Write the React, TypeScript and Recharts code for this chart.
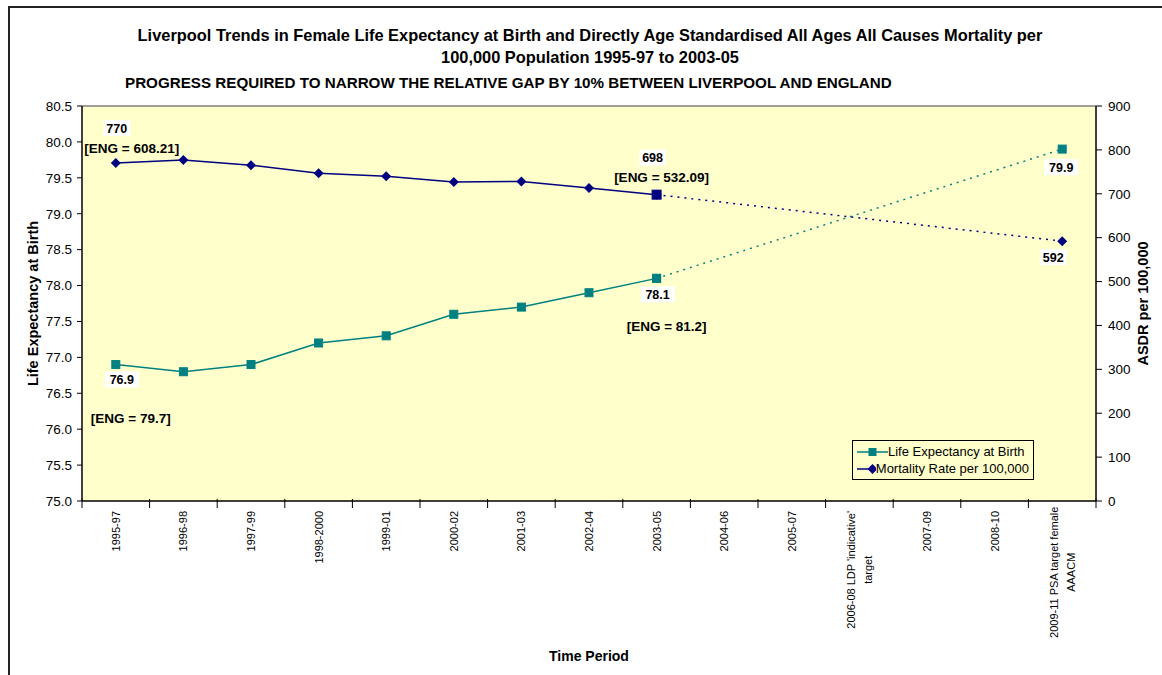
import { CartesianGrid, LabelList, Legend, Line, LineChart, ReferenceLine, XAxis, YAxis } from 'recharts';

const periods = [
  '1995-97',
  '1996-98',
  '1997-99',
  '1998-2000',
  '1999-01',
  '2000-02',
  '2001-03',
  '2002-04',
  '2003-05',
  '2004-06',
  '2005-07',
  "2006-08 LDP 'indicative' target",
  '2007-09',
  '2008-10',
  '2009-11 PSA target female AAACM',
];

// observed Liverpool figures
const lifeExpectancy = [76.9, 76.8, 76.9, 77.2, 77.3, 77.6, 77.7, 77.9, 78.1, null, null, null, null, null, null];
const mortalityRate = [770, 777, 765, 747, 740, 727, 728, 713, 698, null, null, null, null, null, null];

// projection from the latest period to the 2009-11 target
const lifeExpectancyTarget = [null, null, null, null, null, null, null, null, 78.1, null, null, null, null, null, 79.9];
const mortalityTarget = [null, null, null, null, null, null, null, null, 698, null, null, null, null, null, 592];

// England comparators shown next to the first and latest periods
const engLifeExpectancy = [79.7, null, null, null, null, null, null, null, 81.2, null, null, null, null, null, null];
const engMortality = [608.21, null, null, null, null, null, null, null, 532.09, null, null, null, null, null, null];

const leTicks = [75.0, 75.5, 76.0, 76.5, 77.0, 77.5, 78.0, 78.5, 79.0, 79.5, 80.0, 80.5];
const asdrTicks = [0, 100, 200, 300, 400, 500, 600, 700, 800, 900];

const data = periods.map((period, i) => ({
  period,
  le: lifeExpectancy[i],
  leTarget: lifeExpectancyTarget[i],
  mort: mortalityRate[i],
  mortTarget: mortalityTarget[i],
  engLe: engLifeExpectancy[i],
  engMort: engMortality[i],
}));

const TEAL = '#008080';
const NAVY = '#000080';
const PLOT_BG = '#FFFFCC';
const FONT = '"Liberation Sans", Arial, sans-serif';

const W = 1162;
const H = 675;
const M_TOP = 106;
const LEFT_AXIS_W = 82;
const RIGHT_AXIS_W = 66;
const X_AXIS_H = 174;
const HALF_BAND = (W - LEFT_AXIS_W - RIGHT_AXIS_W) / periods.length / 2;

const square = (color: string, size = 8) => (props: any) => {
  const { cx, cy, index } = props;
  if (cy == null || cx == null) return <g key={`s-${index}`} />;
  return <rect key={`s-${index}`} x={cx - size / 2} y={cy - size / 2} width={size} height={size} fill={color} stroke={color} />;
};

const diamond = (color: string, size = 5) => (props: any) => {
  const { cx, cy, index } = props;
  if (cy == null || cx == null) return <g key={`d-${index}`} />;
  return (
    <path
      key={`d-${index}`}
      d={`M${cx},${cy - size}L${cx + size},${cy}L${cx},${cy + size}L${cx - size},${cy}Z`}
      fill={color}
    />
  );
};

// target line for mortality starts on a square and ends on a diamond
const mortTargetDot = (props: any) => (props.index === periods.length - 1 ? diamond(NAVY)(props) : square(NAVY, 9)(props));

// offsets (from the point) for the value box and the England note
type LabelPos = { vx: number; vy: number; ex?: number; ey?: number };

const valueLabel = (positions: Record<number, LabelPos>, engValues: (number | null)[] | null, fmt: (v: number) => string) =>
  (props: any) => {
    const { value, index } = props;
    const pos = positions[index];
    if (!pos || value == null) return null;
    const vb = props.viewBox ?? {};
    const px = vb.x ?? props.x;
    const py = vb.y ?? props.y;
    const txt = fmt(Number(value));
    const w = txt.length * 7.5 + 4;
    const eng = engValues ? engValues[index] : null;
    return (
      <g key={`lbl-${index}`}>
        <rect x={px + pos.vx - w / 2} y={py + pos.vy - 8} width={w} height={16} fill="#ffffff" />
        <text x={px + pos.vx} y={py + pos.vy + 4.5} textAnchor="middle" fontSize={12.5} fontWeight="bold" fontFamily={FONT} fill="#000">
          {txt}
        </text>
        {eng != null && pos.ex != null && pos.ey != null && (
          <text x={px + pos.ex} y={py + pos.ey + 4.5} textAnchor="middle" fontSize={13.5} fontWeight="bold" fontFamily={FONT} fill="#000">
            {`[ENG = ${eng}]`}
          </text>
        )}
      </g>
    );
  };

const leLabelPos: Record<number, LabelPos> = {
  0: { vx: 6, vy: 15, ex: 15, ey: 54 },
  8: { vx: 1, vy: 16, ex: 10, ey: 48 },
};
const leTargetLabelPos: Record<number, LabelPos> = { 14: { vx: -1, vy: 18 } };
const mortLabelPos: Record<number, LabelPos> = {
  0: { vx: 1, vy: -35, ex: 16, ey: -15 },
  8: { vx: -4, vy: -37, ex: 5, ey: -17 },
};
const mortTargetLabelPos: Record<number, LabelPos> = { 14: { vx: -9, vy: 16 } };

// wrap the long target names onto two lines
const splitLabel = (label: string) => {
  if (label.length <= 20) return [label];
  const cut = label.lastIndexOf(' ');
  return [label.slice(0, cut), label.slice(cut + 1)];
};

const PeriodTick = (props: any) => {
  const { x, y, payload, index } = props;
  const lines = splitLabel(String(payload.value));
  const blockLen = Math.max(...lines.map((l) => l.length)) * 4.9;
  const isLast = index === periods.length - 1;
  return (
    <g>
      <line x1={x - HALF_BAND} x2={x - HALF_BAND} y1={y - 4} y2={y + 5} stroke="#000" />
      {isLast && <line x1={x + HALF_BAND} x2={x + HALF_BAND} y1={y - 4} y2={y + 5} stroke="#000" />}
      <g transform={`translate(${x}, ${y + 8}) rotate(-90)`}>
        {lines.map((line, i) => (
          <text
            key={i}
            x={lines.length > 1 ? -blockLen / 2 : 0}
            y={4 + (i - (lines.length - 1) / 2) * 17}
            textAnchor={lines.length > 1 ? 'middle' : 'end'}
            fontSize={11}
            fontFamily={FONT}
            fill="#000"
          >
            {line}
          </text>
        ))}
      </g>
    </g>
  );
};

const LegendBox = () => (
  <div
    style={{
      border: '1px solid #000',
      background: PLOT_BG,
      fontFamily: FONT,
      fontSize: 13,
      padding: '2px 4px',
      lineHeight: '17px',
      boxSizing: 'border-box',
      width: 182,
    }}
  >
    <div style={{ display: 'flex', alignItems: 'center' }}>
      <svg width={31} height={14}>
        <line x1={0} x2={31} y1={7} y2={7} stroke={TEAL} strokeWidth={1.5} />
        <rect x={11.5} y={3} width={8} height={8} fill={TEAL} />
      </svg>
      <span>Life Expectancy at Birth</span>
    </div>
    <div style={{ display: 'flex', alignItems: 'center', whiteSpace: 'nowrap' }}>
      <svg width={31} height={14}>
        <line x1={0} x2={31} y1={7} y2={7} stroke={NAVY} strokeWidth={1.5} />
        <path d="M15.5,2L20.5,7L15.5,12L10.5,7Z" fill={NAVY} />
      </svg>
      <span>Mortality Rate per 100,000</span>
    </div>
  </div>
);

const axisTitle = (text: string, dx: number) => ({ viewBox }: any) => {
  const cx = viewBox.x + dx;
  const cy = viewBox.y + viewBox.height / 2;
  return (
    <text x={cx} y={cy} transform={`rotate(-90, ${cx}, ${cy})`} textAnchor="middle" dominantBaseline="central" fontSize={14.5} fontWeight="bold" fontFamily={FONT}>
      {text}
    </text>
  );
};

export default function App() {
  return (
    <div style={{ position: 'absolute', left: 0, top: 0, width: W, height: H, background: '#fff', fontFamily: FONT }}>
      <div style={{ position: 'absolute', left: 8, top: 6, right: 0, bottom: 0, borderLeft: '2px solid #222', borderTop: '2px solid #222' }} />
      <div style={{ position: 'absolute', left: 0, width: 1180, top: 24, textAlign: 'center', fontWeight: 'bold', fontSize: 16.4, lineHeight: '22px', whiteSpace: 'nowrap' }}>
        Liverpool Trends in Female Life Expectancy at Birth and Directly Age Standardised All Ages All Causes Mortality per
        <br />
        100,000 Population 1995-97 to 2003-05
      </div>
      <div style={{ position: 'absolute', left: 125, top: 74, fontWeight: 'bold', fontSize: 15.2, whiteSpace: 'nowrap' }}>
        PROGRESS REQUIRED TO NARROW THE RELATIVE GAP BY 10% BETWEEN LIVERPOOL AND ENGLAND
      </div>
      <div style={{ position: 'absolute', left: 0, top: 0 }}>
        <LineChart width={W} height={H} data={data} margin={{ top: M_TOP, right: 0, bottom: 0, left: 0 }}>
          <CartesianGrid fill={PLOT_BG} horizontal={false} vertical={false} yAxisId="le" />
          <XAxis
            dataKey="period"
            interval={0}
            height={X_AXIS_H}
            padding={{ left: HALF_BAND, right: HALF_BAND }}
            tickLine={false}
            tickSize={0}
            axisLine={{ stroke: '#000', strokeWidth: 1.5 }}
            tick={<PeriodTick />}
            label={{
              content: ({ viewBox }: any) => (
                <text x={viewBox.x + viewBox.width / 2} y={viewBox.y + 160} textAnchor="middle" fontSize={14} fontWeight="bold" fontFamily={FONT}>
                  Time Period
                </text>
              ),
            }}
          />
          <YAxis
            yAxisId="le"
            orientation="left"
            width={LEFT_AXIS_W}
            domain={[75, 80.5]}
            ticks={leTicks}
            interval={0}
            tickFormatter={(v: number) => v.toFixed(1)}
            tick={{ fill: '#000', fontSize: 13.5, fontFamily: FONT }}
            tickSize={5}
            tickMargin={5}
            tickLine={{ stroke: '#000' }}
            axisLine={{ stroke: '#000', strokeWidth: 1.5 }}
            label={{ content: axisTitle('Life Expectancy at Birth', 33) }}
          />
          <YAxis
            yAxisId="asdr"
            orientation="right"
            width={RIGHT_AXIS_W}
            domain={[0, 900]}
            ticks={asdrTicks}
            interval={0}
            tick={{ fill: '#000', fontSize: 13.5, fontFamily: FONT }}
            tickSize={6}
            tickMargin={6}
            tickLine={{ stroke: '#000' }}
            axisLine={{ stroke: '#000', strokeWidth: 1.5 }}
            label={{ content: axisTitle('ASDR per 100,000', 47) }}
          />
          <ReferenceLine yAxisId="le" y={80.5} stroke="#808080" strokeWidth={1.5} />
          <Legend
            layout="horizontal"
            verticalAlign="middle"
            align="center"
            wrapperStyle={{ left: 852, top: 440, width: 182 }}
            content={() => <LegendBox />}
          />
          <Line
            yAxisId="le"
            dataKey="leTarget"
            connectNulls
            stroke={TEAL}
            strokeWidth={1.5}
            strokeDasharray="2 5"
            dot={square(TEAL)}
            activeDot={false}
            isAnimationActive={false}
          >
            <LabelList dataKey="leTarget" content={valueLabel(leTargetLabelPos, null, (v) => v.toFixed(1))} />
          </Line>
          <Line
            yAxisId="asdr"
            dataKey="mortTarget"
            connectNulls
            stroke={NAVY}
            strokeWidth={1.5}
            strokeDasharray="2 5"
            dot={mortTargetDot}
            activeDot={false}
            isAnimationActive={false}
          >
            <LabelList dataKey="mortTarget" content={valueLabel(mortTargetLabelPos, null, (v) => String(v))} />
          </Line>
          <Line
            yAxisId="le"
            dataKey="le"
            stroke={TEAL}
            strokeWidth={1.5}
            dot={square(TEAL)}
            activeDot={false}
            isAnimationActive={false}
          >
            <LabelList dataKey="le" content={valueLabel(leLabelPos, engLifeExpectancy, (v) => v.toFixed(1))} />
          </Line>
          <Line
            yAxisId="asdr"
            dataKey="mort"
            stroke={NAVY}
            strokeWidth={1.5}
            dot={diamond(NAVY)}
            activeDot={false}
            isAnimationActive={false}
          >
            <LabelList dataKey="mort" content={valueLabel(mortLabelPos, engMortality, (v) => String(v))} />
          </Line>
        </LineChart>
      </div>
    </div>
  );
}
